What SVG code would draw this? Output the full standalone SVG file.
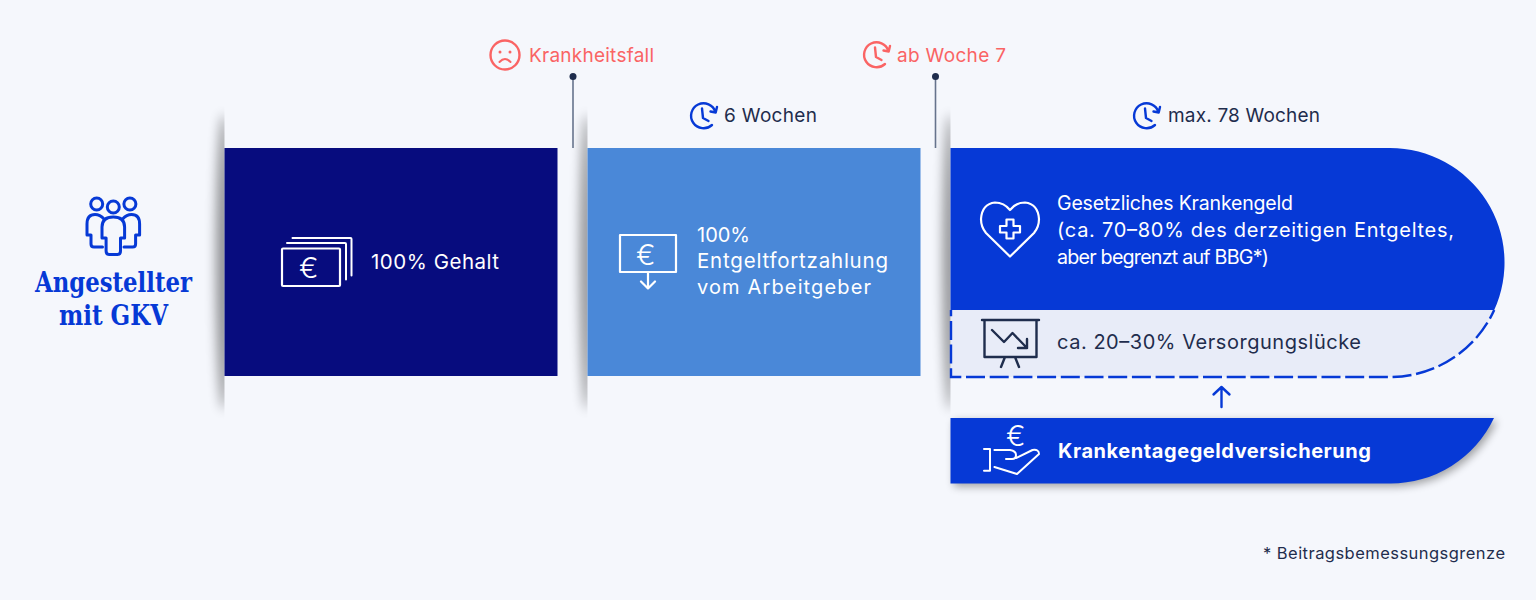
<svg xmlns="http://www.w3.org/2000/svg" width="1536" height="600" viewBox="0 0 1536 600">
<style>
text{font-family:"Inter","Liberation Sans",sans-serif;font-size:19px}
.w{fill:#fff}.d{fill:#1f2d4d}.r{fill:#fa6464}
.eu{fill:#fff;font-size:29px;font-weight:300}
.hd{font-family:"DejaVu Serif Condensed","DejaVu Serif",serif;font-weight:700;font-size:27px;fill:#0639d6}
.iw{fill:none;stroke:#fff;stroke-width:2.2;stroke-linejoin:round;stroke-linecap:round}
.ib{fill:none;stroke:#0639d6;stroke-width:2.4;stroke-linejoin:round;stroke-linecap:round}
.ip{fill:none;stroke:#0639d6;stroke-width:3;stroke-linejoin:round;stroke-linecap:round}
.ir{fill:none;stroke:#fa6464;stroke-width:2.4;stroke-linejoin:round;stroke-linecap:round}
.id{fill:none;stroke:#1f2d4d;stroke-width:2.4;stroke-linejoin:round;stroke-linecap:round}
.sh{fill:#000;opacity:.42;filter:url(#bl)}
.pin{stroke:#66738c;stroke-width:1.6}
</style>
<defs>
<filter id="bl" x="-200%" y="-20%" width="500%" height="140%"><feGaussianBlur stdDeviation="6"/></filter>
<filter id="bl2" x="-10%" y="-50%" width="120%" height="200%"><feGaussianBlur stdDeviation="4"/></filter>
<clipPath id="c1"><rect x="190" y="100" width="34.5" height="320"/></clipPath>
<clipPath id="c2"><rect x="555" y="100" width="32.5" height="320"/></clipPath>
<clipPath id="c3"><rect x="920" y="100" width="30.5" height="320"/></clipPath>
<symbol id="clock" viewBox="0 0 28 28" overflow="visible">
<path d="M22 23A12.500 12.500 0 1 1 25.500 10M20.500 9.500L25.700 10.500L27 5M12 6.500L13 16L18.500 19"/>
</symbol>
</defs>
<rect width="1536" height="600" fill="#f5f7fc"/>
<g id="shadows">
<g clip-path="url(#c1)"><ellipse class="sh" cx="224" cy="262" rx="8" ry="148"/></g>
<g clip-path="url(#c2)"><ellipse class="sh" cx="587" cy="262" rx="7" ry="148"/></g>
<g clip-path="url(#c3)"><ellipse class="sh" cx="950" cy="262" rx="7" ry="148"/></g>
</g>
<g id="connectors">
<line class="pin" x1="573" y1="77" x2="573" y2="148"/>
<circle cx="573" cy="76.500" r="3.500" fill="#1f2d4d"/>
<line class="pin" x1="935.500" y1="77" x2="935.500" y2="148"/>
<circle cx="935.500" cy="76.500" r="3.500" fill="#1f2d4d"/>
<path d="M1221.500 407V387M1213.500 394.500L1221.500 387L1229.500 394.500" fill="none" stroke="#0639d6" stroke-width="2.400" stroke-linecap="round" stroke-linejoin="round"/>
</g>
<g id="person">
<g class="ip">
<circle cx="96.700" cy="204" r="6"/><circle cx="113.300" cy="207" r="6"/><circle cx="129.900" cy="204" r="6"/>
</g>
<path class="ip" d="M102 238V227Q102 217 113.300 217Q124.600 217 124.600 227V238H120.500V251Q120.500 254.500 117.500 254.500H109.100Q106.100 254.500 106.100 251V238Z"/>
<path class="ip" d="M104 219Q100 214.500 95 214.500Q87 214.500 87 224V235H91V244Q91 247 94 247H102.500"/>
<path class="ip" d="M122.600 219Q126.600 214.500 131.600 214.500Q139.600 214.500 139.600 224V235H135.600V244Q135.600 247 132.600 247H124"/>
<text class="hd" x="35" y="292" textLength="157" lengthAdjust="spacingAndGlyphs">Angestellter</text>
<text class="hd" x="59" y="325" textLength="109" lengthAdjust="spacingAndGlyphs">mit GKV</text>
</g>
<g id="gehalt">
<rect x="224.500" y="148" width="333" height="228" fill="#070c7e"/>
<rect class="iw" x="282" y="248.500" width="58" height="37.500" rx="1"/>
<path class="iw" d="M287 243H345A1 1 0 0 1 346 244V279.500M292.500 238H350.500A1 1 0 0 1 351.500 239V275.500" style="stroke-width:2"/>
<text class="eu" x="299" y="278">€</text>
<text class="w" x="371" y="269" textLength="128" style="font-size:20.500px">100% Gehalt</text>
</g>
<g id="entgelt">
<rect x="587.500" y="148" width="333" height="228" fill="#4a88d8"/>
<path class="iw" d="M620 235H676V272H620ZM648 272V288.500M641 281.500L648 288.500L655 281.500"/>
<text class="eu" x="636" y="265">€</text>
<text class="w" x="697" y="242" textLength="53" style="font-size:20px">100%</text>
<text class="w" x="697" y="268" textLength="191" style="font-size:20.500px">Entgeltfortzahlung</text>
<text class="w" x="697" y="294" textLength="174" style="font-size:20px">vom Arbeitgeber</text>
</g>
<g id="krankengeld">
<path d="M951 310V377H1390A114.500 114.500 0 0 0 1494.200 310Z" fill="#e8ecf8"/>
<path d="M951 310V377H1390A114.500 114.500 0 0 0 1494.200 310" fill="none" stroke="#0639d6" stroke-width="2.400" stroke-dasharray="19 4.700" stroke-dashoffset="-10.900"/>
<path d="M950.500 148H1390A114.500 114.500 0 0 1 1494.200 310H950.500Z" fill="#0639d6"/>
<path class="iw" d="M1010 256.500L986 233Q981 227 981 219Q982 204 995 202.500Q1004 202.500 1010 210Q1016 202.500 1025 202.500Q1038 204 1039 219Q1039 227 1034 233Z"/>
<path class="iw" d="M1006.500 219.500H1013.500V226H1020V232.500H1013.500V238.500H1006.500V232.500H1000V226H1006.500Z"/>
<text class="w" x="1057" y="210" textLength="236" style="font-size:19.500px">Gesetzliches Krankengeld</text>
<text class="w" x="1057" y="237" textLength="397" style="font-size:20px">(ca. 70–80% des derzeitigen Entgeltes,</text>
<text class="w" x="1057" y="264" textLength="212" style="font-size:19.700px">aber begrenzt auf BBG*)</text>
<path class="id" d="M982 320H1039M984.500 320V357H1036.500V320M992 330L1004 342L1012.500 333L1027 348M1027 339V348H1018M1005 357L1001 367M1015 357L1019 367"/>
<text class="d" x="1057" y="349" textLength="304" style="font-size:20px">ca. 20–30% Versorgungslücke</text>
</g>
<g id="ktg">
<path d="M951 418H1494A114.500 114.500 0 0 1 1390 483.500H951Z" fill="#000" opacity=".35" filter="url(#bl2)" transform="translate(3 3)"/>
<path d="M950.500 418H1494A114.500 114.500 0 0 1 1390 483.500H950.500Z" fill="#0639d6"/>
<text class="eu" x="1006" y="446">€</text>
<path class="iw" d="M984 449H990V470.700H984M994.400 450H1010Q1016 451 1016 455Q1016 459 1012 459H1006M1016 458L1032.500 450Q1039 449 1039 454L1017 474L994.400 467" style="stroke-width:2"/>
<text class="w" x="1058" y="458" textLength="313" style="font-weight:700;font-size:20px">Krankentagegeldversicherung</text>
</g>
<g id="label-krankheit">
<circle class="ir" cx="505" cy="55" r="14.500"/>
<circle cx="500" cy="52" r="1.500" fill="#fa6464"/><circle cx="510" cy="52" r="1.500" fill="#fa6464"/>
<path class="ir" d="M499.500 62Q505 56 510.500 62" style="stroke-width:2"/>
<text class="r" x="529" y="62" textLength="125">Krankheitsfall</text>
</g>
<g id="label-woche7">
<use href="#clock" class="ir" x="863" y="41" width="28" height="28"/>
<text class="r" x="897" y="62" textLength="109">ab Woche 7</text>
</g>
<g id="label-6w">
<use href="#clock" class="ib" x="690" y="102" width="28" height="28"/>
<text class="d" x="724" y="122" textLength="93">6 Wochen</text>
</g>
<g id="label-78w">
<use href="#clock" class="ib" x="1133" y="102" width="28" height="28"/>
<text class="d" x="1168" y="122" textLength="152">max. 78 Wochen</text>
</g>
<text class="d" x="1263" y="559" textLength="242" style="font-size:16.500px">* Beitragsbemessungsgrenze</text>
</svg>
